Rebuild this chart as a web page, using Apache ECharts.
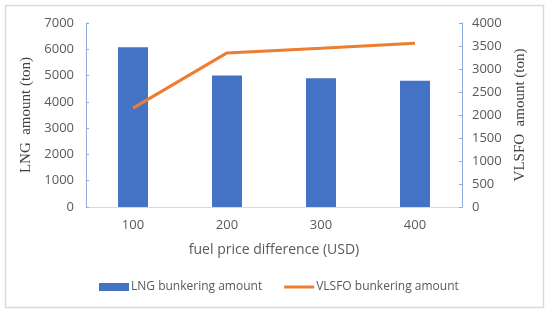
<!DOCTYPE html>
<html>
<head>
<meta charset="utf-8">
<script src="https://cdn.jsdelivr.net/npm/echarts@6/dist/echarts.min.js"></script>
<style>
  html, body { margin: 0; padding: 0; background: #fff; }
  #chart { width: 550px; height: 314px; }
</style>
</head>
<body>
<div id="chart"></div>
<script>
// 数据
const categories = ['100', '200', '300', '400'];
const lngAmount = [6080, 5000, 4900, 4800];
const vlsfoAmount = [2150, 3350, 3450, 3560];

const chart = echarts.init(document.getElementById('chart'));
const tickFont = { fontFamily: 'Open Sans', fontSize: 13, color: '#595959', formatter: v => String(v) };
const nameFont = { fontFamily: 'Liberation Serif', fontSize: 15, color: '#404040' };

const option = {
  animation: false,
  graphic: [{
    type: 'rect',
    shape: { x: 5.5, y: 5.5, width: 538, height: 302 },
    style: { fill: 'none', stroke: '#d9d9d9', lineWidth: 1.5 }
  }],
  grid: { left: 86, right: 88, top: 23, bottom: 107 },
  legend: {
    top: 276,
    left: 94,
    itemGap: 22,
    itemWidth: 30,
    itemHeight: 8,
    textStyle: { fontFamily: 'Open Sans', fontSize: 12, color: '#595959', padding: [0, 0, 0, -3] },
    data: [
      { name: 'LNG bunkering amount', icon: 'rect' },
      { name: 'VLSFO bunkering amount', icon: 'path://M0,0 L30,0 L30,3 L0,3 Z', itemStyle: { color: '#ed7d31' } }
    ]
  },
  xAxis: {
    type: 'category',
    data: categories,
    name: 'fuel price difference (USD)',
    nameLocation: 'middle',
    nameGap: 36,
    nameTextStyle: { fontFamily: 'Open Sans', fontSize: 14, color: '#595959' },
    axisLine: { lineStyle: { color: '#d9d9d9', width: 1 } },
    axisTick: { show: false },
    axisLabel: Object.assign({}, tickFont, { margin: 12 })
  },
  yAxis: [{
    type: 'value',
    min: 0, max: 7000, interval: 1000,
    name: 'LNG  amount (ton)',
    nameLocation: 'middle',
    nameGap: 43,
    nameTextStyle: nameFont,
    axisLine: { show: true, lineStyle: { color: '#8faadc' } },
    axisTick: { show: true, inside: true, length: 3, lineStyle: { color: '#8faadc' } },
    splitLine: { show: false },
    axisLabel: Object.assign({}, tickFont, { margin: 12 })
  }, {
    type: 'value',
    min: 0, max: 4000, interval: 500,
    name: 'VLSFO  amount (ton)',
    nameLocation: 'middle',
    nameGap: 48,
    nameRotate: 90,
    nameTextStyle: nameFont,
    axisLine: { show: true, lineStyle: { color: '#8faadc' } },
    axisTick: { show: true, inside: true, length: 3, lineStyle: { color: '#8faadc' } },
    splitLine: { show: false },
    axisLabel: Object.assign({}, tickFont, { margin: 10 })
  }],
  series: [{
    name: 'LNG bunkering amount',
    type: 'bar',
    data: lngAmount,
    barWidth: 30,
    itemStyle: { color: '#4472c4' }
  }, {
    name: 'VLSFO bunkering amount',
    type: 'line',
    yAxisIndex: 1,
    data: vlsfoAmount,
    symbol: 'none',
    lineStyle: { color: '#ed7d31', width: 3 },
    itemStyle: { color: '#ed7d31' }
  }]
};

chart.setOption(option);
</script>
</body>
</html>
